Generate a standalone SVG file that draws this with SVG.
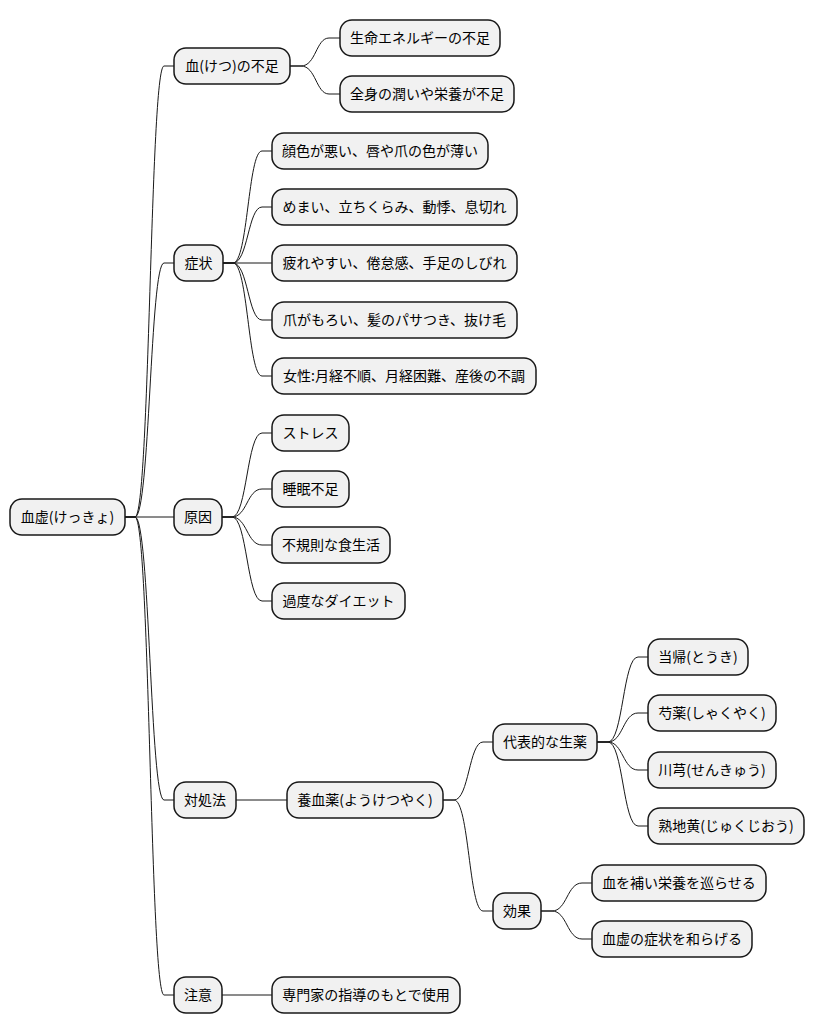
<svg xmlns="http://www.w3.org/2000/svg" width="815" height="1034" viewBox="0 0 815 1034">
<style>
.n rect{fill:#F1F1F1;stroke:#181818;stroke-width:1.5}
.n text{font-family:"Noto Sans CJK JP","Noto Sans",sans-serif;font-size:14px;fill:#000;text-anchor:middle}
#edges path{fill:none;stroke:#181818;stroke-width:1}
</style>
<rect width="815" height="1034" fill="#FFFFFF"/>
<g id="edges">
<path d="M125 517 H135 C150 517 150 66 164 66 H174"/>
<path d="M125 517 H135 C150 517 150 263 164 263 H174"/>
<path d="M125 517 H174"/>
<path d="M125 517 H135 C150 517 150 800 164 800 H174"/>
<path d="M125 517 H135 C150 517 150 995 164 995 H174"/>
<path d="M290 66 H301 C316 66 316 38 329 38 H340"/>
<path d="M290 66 H301 C316 66 316 94 329 94 H340"/>
<path d="M223 263 H233 C248 263 248 151 262 151 H272"/>
<path d="M223 263 H233 C248 263 248 207 262 207 H272"/>
<path d="M223 263 H272"/>
<path d="M223 263 H233 C248 263 248 320 262 320 H272"/>
<path d="M223 263 H233 C248 263 248 376 262 376 H272"/>
<path d="M222 517 H232 C247 517 247 433 262 433 H272"/>
<path d="M222 517 H232 C247 517 247 489 262 489 H272"/>
<path d="M222 517 H232 C247 517 247 545 262 545 H272"/>
<path d="M222 517 H232 C247 517 247 601 262 601 H272"/>
<path d="M236 800 H287"/>
<path d="M443 800 H454 C469 800 469 742 483 742 H493"/>
<path d="M443 800 H454 C469 800 469 911 483 911 H493"/>
<path d="M597 742 H608 C623 742 623 657 638 657 H648"/>
<path d="M597 742 H608 C623 742 623 713 638 713 H648"/>
<path d="M597 742 H608 C623 742 623 770 638 770 H648"/>
<path d="M597 742 H608 C623 742 623 826 638 826 H648"/>
<path d="M541 911 H552 C567 911 567 883 582 883 H592"/>
<path d="M541 911 H552 C567 911 567 939 582 939 H592"/>
<path d="M222 995 H272"/>
</g>
<g id="root" class="n"><rect x="10" y="499" width="115" height="36" rx="12"/><text x="67.5" y="522">血虚(けっきょ)</text></g>
<g id="n1" class="n"><rect x="174" y="48" width="116" height="36" rx="12"/><text x="232" y="71">血(けつ)の不足</text></g>
<g id="n1a" class="n"><rect x="340" y="20" width="160" height="36" rx="12"/><text x="420" y="43">生命エネルギーの不足</text></g>
<g id="n1b" class="n"><rect x="340" y="76" width="174" height="36" rx="12"/><text x="427" y="99">全身の潤いや栄養が不足</text></g>
<g id="n2" class="n"><rect x="174" y="245" width="49" height="36" rx="12"/><text x="198.5" y="268">症状</text></g>
<g id="n2a" class="n"><rect x="272" y="133" width="216" height="36" rx="12"/><text x="380" y="156">顔色が悪い、唇や爪の色が薄い</text></g>
<g id="n2b" class="n"><rect x="272" y="189" width="245" height="36" rx="12"/><text x="394.5" y="212">めまい、立ちくらみ、動悸、息切れ</text></g>
<g id="n2c" class="n"><rect x="272" y="245" width="245" height="36" rx="12"/><text x="394.5" y="268">疲れやすい、倦怠感、手足のしびれ</text></g>
<g id="n2d" class="n"><rect x="272" y="302" width="245" height="36" rx="12"/><text x="394.5" y="325">爪がもろい、髪のパサつき、抜け毛</text></g>
<g id="n2e" class="n"><rect x="272" y="358" width="264" height="36" rx="12"/><text x="404" y="381">女性:月経不順、月経困難、産後の不調</text></g>
<g id="n3" class="n"><rect x="174" y="499" width="48" height="36" rx="12"/><text x="198" y="522">原因</text></g>
<g id="n3a" class="n"><rect x="272" y="415" width="77" height="36" rx="12"/><text x="310.5" y="438">ストレス</text></g>
<g id="n3b" class="n"><rect x="272" y="471" width="77" height="36" rx="12"/><text x="310.5" y="494">睡眠不足</text></g>
<g id="n3c" class="n"><rect x="272" y="527" width="118" height="36" rx="12"/><text x="331" y="550">不規則な食生活</text></g>
<g id="n3d" class="n"><rect x="272" y="583" width="133" height="36" rx="12"/><text x="338.5" y="606">過度なダイエット</text></g>
<g id="n4" class="n"><rect x="174" y="782" width="62" height="36" rx="12"/><text x="205" y="805">対処法</text></g>
<g id="n4a" class="n"><rect x="287" y="782" width="156" height="36" rx="12"/><text x="365" y="805">養血薬(ようけつやく)</text></g>
<g id="n4b" class="n"><rect x="493" y="724" width="104" height="36" rx="12"/><text x="545" y="747">代表的な生薬</text></g>
<g id="n4b1" class="n"><rect x="648" y="639" width="100" height="36" rx="12"/><text x="698" y="662">当帰(とうき)</text></g>
<g id="n4b2" class="n"><rect x="648" y="695" width="128" height="36" rx="12"/><text x="712" y="718">芍薬(しゃくやく)</text></g>
<g id="n4b3" class="n"><rect x="648" y="752" width="128" height="36" rx="12"/><text x="712" y="775">川芎(せんきゅう)</text></g>
<g id="n4b4" class="n"><rect x="648" y="808" width="156" height="36" rx="12"/><text x="726" y="831">熟地黄(じゅくじおう)</text></g>
<g id="n4c" class="n"><rect x="493" y="893" width="48" height="36" rx="12"/><text x="517" y="916">効果</text></g>
<g id="n4c1" class="n"><rect x="592" y="865" width="174" height="36" rx="12"/><text x="679" y="888">血を補い栄養を巡らせる</text></g>
<g id="n4c2" class="n"><rect x="592" y="921" width="160" height="36" rx="12"/><text x="672" y="944">血虚の症状を和らげる</text></g>
<g id="n5" class="n"><rect x="174" y="977" width="48" height="36" rx="12"/><text x="198" y="1000">注意</text></g>
<g id="n5a" class="n"><rect x="272" y="977" width="188" height="36" rx="12"/><text x="366" y="1000">専門家の指導のもとで使用</text></g>
</svg>
